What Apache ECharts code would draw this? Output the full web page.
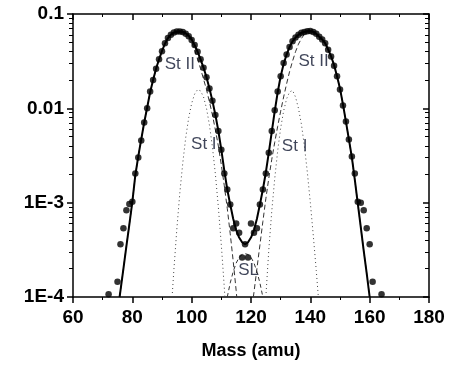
<!DOCTYPE html>
<html><head><meta charset="utf-8">
<script src="https://cdn.jsdelivr.net/npm/echarts@6/dist/echarts.min.js"></script>
<style>html,body{margin:0;padding:0;background:#fff}#c{width:456px;height:365px}</style>
</head><body><div id="c"></div>
<script>
// ---- axis ticks ----
const yTickValues = [1e-4, 1e-3, 0.01, 0.1];
const yTickLabels = ['1E-4', '1E-3', '0.01', '0.1'];
const yMinorTicks = [2e-4,3e-4,4e-4,5e-4,6e-4,7e-4,8e-4,9e-4,2e-3,3e-3,4e-3,5e-3,6e-3,7e-3,8e-3,9e-3,0.02,0.03,0.04,0.05,0.06,0.07,0.08,0.09];

// ---- measured points ----
const dotMass = [72,75,76,77,78,79,80,81,82,83,84,85,86,87,88,89,90,91,92,93,94,95,96,97,98,99,100,101,102,103,104,105,106,107,108,109,110,111,112,113,114,115,116,117,118,119,120,121,122,123,124,125,126,127,128,129,130,131,132,133,134,135,136,137,138,139,140,141,142,143,144,145,146,147,148,149,150,151,152,153,154,155,156,157,158,159,160,161,164];
const dotValue = [1.07e-4,1.45e-4,3.63e-4,5.37e-4,8.3e-4,9.66e-4,1.02e-3,2.04e-3,
  3.02e-3,4.57e-3,7.08e-3,0.0100,0.0151,0.0200,0.0263,0.0331,0.0403,0.0490,
  0.0556,0.0603,0.0638,0.0652,0.0652,0.0646,0.0617,0.0582,0.0531,0.0468,
  0.0398,0.0331,0.0269,0.0214,0.0162,0.0120,0.00851,0.00575,0.00363,0.00204,
  0.00138,9.55e-4,5.37e-4,6.03e-4,4.79e-4,2.63e-4,3.63e-4,2.63e-4,6.03e-4,4.79e-4,
  5.37e-4,9.55e-4,1.38e-3,2.04e-3,3.39e-3,5.75e-3,9.55e-3,0.0151,0.0219,0.0302,
  0.0372,0.0447,0.0513,0.0562,0.0603,0.0631,0.0646,0.0656,0.0661,0.0646,
  0.0617,0.0575,0.0537,0.0490,0.0417,0.0355,0.0282,0.0219,0.0158,0.0107,
  7.24e-3,4.68e-3,3.09e-3,2.04e-3,1.02e-3,1.00e-3,8.3e-4,5.37e-4,3.63e-4,1.45e-4,
  1.07e-4];

// ---- total fit ----
const fitMass = [75.7,76,77,78,79,80,81,82,83,84,85,86,87,88,89,90,91,92,93,94,95,96,97,98,99,100,101,102,103,104,105,106,107,108,109,110,111,112,113,114,115,116,117,118,119,120,121,122,123,124,125,126,127,128,129,130,131,132,133,134,135,136,137,138,139,140,141,142,143,144,145,146,147,148,149,150,151,152,153,154,155,156,157,158,159,160];
const fitValue = [1.0e-4,
  1.17e-4,2.0e-4,3.47e-4,5.89e-4,1.02e-3,1.95e-3,3.09e-3,4.68e-3,7.08e-3,0.0102,
  0.0148,0.0200,0.0263,0.0331,0.0407,0.0484,0.0556,0.0605,0.0635,0.0650,
  0.0653,0.0646,0.0624,0.0589,0.0537,0.0468,0.0398,0.0331,0.0269,0.0214,
  0.0162,0.0120,8.51e-3,5.75e-3,3.63e-3,2.19e-3,1.38e-3,9.55e-4,6.76e-4,5.13e-4,
  4.27e-4,3.80e-4,3.63e-4,3.80e-4,4.27e-4,5.13e-4,6.76e-4,9.55e-4,1.38e-3,2.09e-3,
  3.39e-3,5.62e-3,9.33e-3,0.0148,0.0219,0.0295,0.0372,0.0447,0.0513,0.0562,
  0.0603,0.0631,0.0646,0.0656,0.0658,0.0646,0.0617,0.0575,0.0537,0.0490,
  0.0422,0.0355,0.0288,0.0219,0.0162,0.0110,7.24e-3,4.68e-3,3.02e-3,1.74e-3,
  9.77e-4,5.5e-4,3.09e-4,1.78e-4,1.0e-4];

// ---- components ----
const stIILMass = [75.7,76,77,78,79,80,81,82,83,84,85,86,87,88,89,90,91,92,93,94,95,96,97,98,99,100,101,102,103,104,105,106,107,108,109,110,111,112,113,114,115,115.2];
const stIILValue = [1.0e-4,
  1.17e-4,2.0e-4,3.47e-4,5.89e-4,1.02e-3,1.95e-3,3.09e-3,4.68e-3,7.08e-3,0.0102,
  0.0148,0.0200,0.0263,0.0331,0.0407,0.0484,0.0556,0.0605,0.0635,0.0650,
  0.0653,0.0646,
  0.0617,0.0575,0.0501,0.0417,0.0331,0.0263,0.0204,0.0158,0.0117,8.51e-3,
  5.89e-3,3.98e-3,2.51e-3,1.51e-3,8.71e-4,4.68e-4,2.40e-4,1.17e-4,1.0e-4];

const stIIRMass = [120.8,121,122,123,124,125,126,127,128,129,130,131,132,133,134,135,136,137,138,139,140,141,142,143,144,145,146,147,148,149,150,151,152,153,154,155,156,157,158,159,160];
const stIIRValue = [1.0e-4,
  1.12e-4,2.0e-4,3.55e-4,6.31e-4,1.10e-3,1.82e-3,2.88e-3,4.37e-3,6.46e-3,9.33e-3,
  0.0132,0.0182,0.0245,0.0316,0.0398,0.0479,0.0550,0.0610,
  0.0656,0.0658,0.0646,0.0617,0.0575,0.0537,0.0490,0.0422,0.0355,0.0288,
  0.0219,0.0162,0.0110,7.24e-3,4.68e-3,3.02e-3,1.74e-3,9.77e-4,5.5e-4,3.09e-4,
  1.78e-4,1.0e-4];

const stILMass = [93.4,94,95,96,97,98,99,100,101,102,103,104,105,106,107,108,109,110,111,111.2];
const stILValue = [1.0e-4,1.93e-4,5.25e-4,1.26e-3,2.63e-3,4.90e-3,7.94e-3,0.0113,0.0142,0.0158,0.0153,0.0132,0.0100,6.61e-3,3.89e-3,2.0e-3,8.91e-4,3.55e-4,1.26e-4,1.0e-4];

const stIRMass = [125,126,127,128,129,130,131,132,133,134,135,136,137,138,139,140,141,142,142.7];
const stIRValue = [1.0e-4,3.16e-4,8.13e-4,1.80e-3,3.55e-3,6.17e-3,9.38e-3,0.0126,0.0149,0.0155,0.0132,0.0100,6.76e-3,3.98e-3,2.09e-3,1.0e-3,4.47e-4,1.91e-4,1.0e-4];

const slMass = [112,113,114,115,116,117,118,119,120,121,122,123,124];
const slValue = [1.0e-4,1.41e-4,1.86e-4,2.29e-4,2.63e-4,2.82e-4,2.88e-4,2.82e-4,2.63e-4,2.29e-4,1.86e-4,1.41e-4,1.0e-4];

// ---- annotations ----
const annotText = ['St II', 'St II', 'St I', 'St I', 'SL'];
const annotMass = [96.0, 141.1, 104.1, 134.7, 119.2];
const annotValue = [0.0291, 0.0313, 4.11e-3, 4.0e-3, 1.9e-4];

const zip = (xs, ys) => xs.map((x, i) => [x, ys[i]]);
const FONT = 'Liberation Sans, Arial, sans-serif';
const black = '#000';

function yLabel(v) {
  const lv = Math.log10(v);
  for (let i = 0; i < yTickValues.length; i++) {
    if (Math.abs(Math.log10(yTickValues[i]) - lv) < 1e-6) return yTickLabels[i];
  }
  return '';
}

const xBase = {
  type: 'value', min: 60, max: 180, interval: 20,
  axisLine: { onZero: false, lineStyle: { color: black, width: 1.5 } },
  splitLine: { show: false }
};
const yBase = {
  type: 'log', logBase: 10, min: 1e-4, max: 0.1,
  axisLine: { onZero: false, lineStyle: { color: black, width: 1.5 } },
  splitLine: { show: false }, minorTick: { show: false }
};

const chart = echarts.init(document.getElementById('c'), null, { renderer: 'canvas' });
chart.setOption({
  animation: false,
  backgroundColor: '#fff',
  grid: { left: 73, right: 27, top: 14, bottom: 68, containLabel: false },
  xAxis: [
    Object.assign({}, xBase, {
      position: 'bottom',
      axisTick: { inside: false, length: 6, lineStyle: { color: black, width: 1.5 } },
      minorTick: { show: true, splitNumber: 2, length: 3, lineStyle: { color: black, width: 1 } },
      axisLabel: { color: black, fontWeight: 'bold', fontSize: 19, fontFamily: FONT, margin: 11 },
      name: 'Mass (amu)', nameLocation: 'middle', nameGap: 45,
      nameTextStyle: { color: black, fontWeight: 'bold', fontSize: 18, fontFamily: FONT }
    }),
    Object.assign({}, xBase, {
      position: 'top',
      axisTick: { inside: true, length: 6, lineStyle: { color: black, width: 1.5 } },
      minorTick: { show: true, splitNumber: 2, length: 3, lineStyle: { color: black, width: 1 } },
      axisLabel: { show: false }
    })
  ],
  yAxis: [
    Object.assign({}, yBase, {
      position: 'left',
      axisTick: { inside: false, length: 6, lineStyle: { color: black, width: 1.5 } },
      axisLabel: { color: black, fontWeight: 'bold', fontSize: 19, fontFamily: FONT, margin: 9, formatter: yLabel }
    }),
    Object.assign({}, yBase, {
      position: 'left',
      axisLine: { show: false },
      axisTick: { inside: false, length: 4, customValues: yMinorTicks, lineStyle: { color: black, width: 1 } },
      axisLabel: { show: false }
    }),
    Object.assign({}, yBase, {
      position: 'right',
      axisTick: { inside: true, length: 6, lineStyle: { color: black, width: 1.5 } },
      axisLabel: { show: false }
    }),
    Object.assign({}, yBase, {
      position: 'right',
      axisLine: { show: false },
      axisTick: { inside: true, length: 4, customValues: yMinorTicks, lineStyle: { color: black, width: 1 } },
      axisLabel: { show: false }
    })
  ],
  series: [
    { name: 'St I L', type: 'line', data: zip(stILMass, stILValue), showSymbol: false, symbol: 'none', z: 2,
      lineStyle: { color: '#444', width: 1, type: [1, 3] } },
    { name: 'St I R', type: 'line', data: zip(stIRMass, stIRValue), showSymbol: false, symbol: 'none', z: 2,
      lineStyle: { color: '#444', width: 1, type: [1, 3] } },
    { name: 'St II L', type: 'line', data: zip(stIILMass, stIILValue), showSymbol: false, symbol: 'none', z: 2,
      lineStyle: { color: '#333', width: 1, type: [5, 3] } },
    { name: 'St II R', type: 'line', data: zip(stIIRMass, stIIRValue), showSymbol: false, symbol: 'none', z: 2,
      lineStyle: { color: '#333', width: 1, type: [5, 3] } },
    { name: 'SL', type: 'line', data: zip(slMass, slValue), showSymbol: false, symbol: 'none', z: 2,
      lineStyle: { color: '#333', width: 1, type: [4, 3] } },
    { name: 'labels', type: 'scatter', z: 3, symbolSize: 0,
      data: annotText.map((t, i) => ({ name: t, value: [annotMass[i], annotValue[i]] })),
      label: { show: true, position: 'inside', formatter: p => p.name, color: '#0f1730', fontSize: 17, fontFamily: FONT } },
    { name: 'fit', type: 'line', data: zip(fitMass, fitValue), showSymbol: false, symbol: 'none', z: 4,
      lineStyle: { color: black, width: 2 } },
    { name: 'data', type: 'scatter', data: zip(dotMass, dotValue), z: 5, symbol: 'circle', symbolSize: 6.5,
      itemStyle: { color: black } }
  ]
});
</script>
</body></html>
